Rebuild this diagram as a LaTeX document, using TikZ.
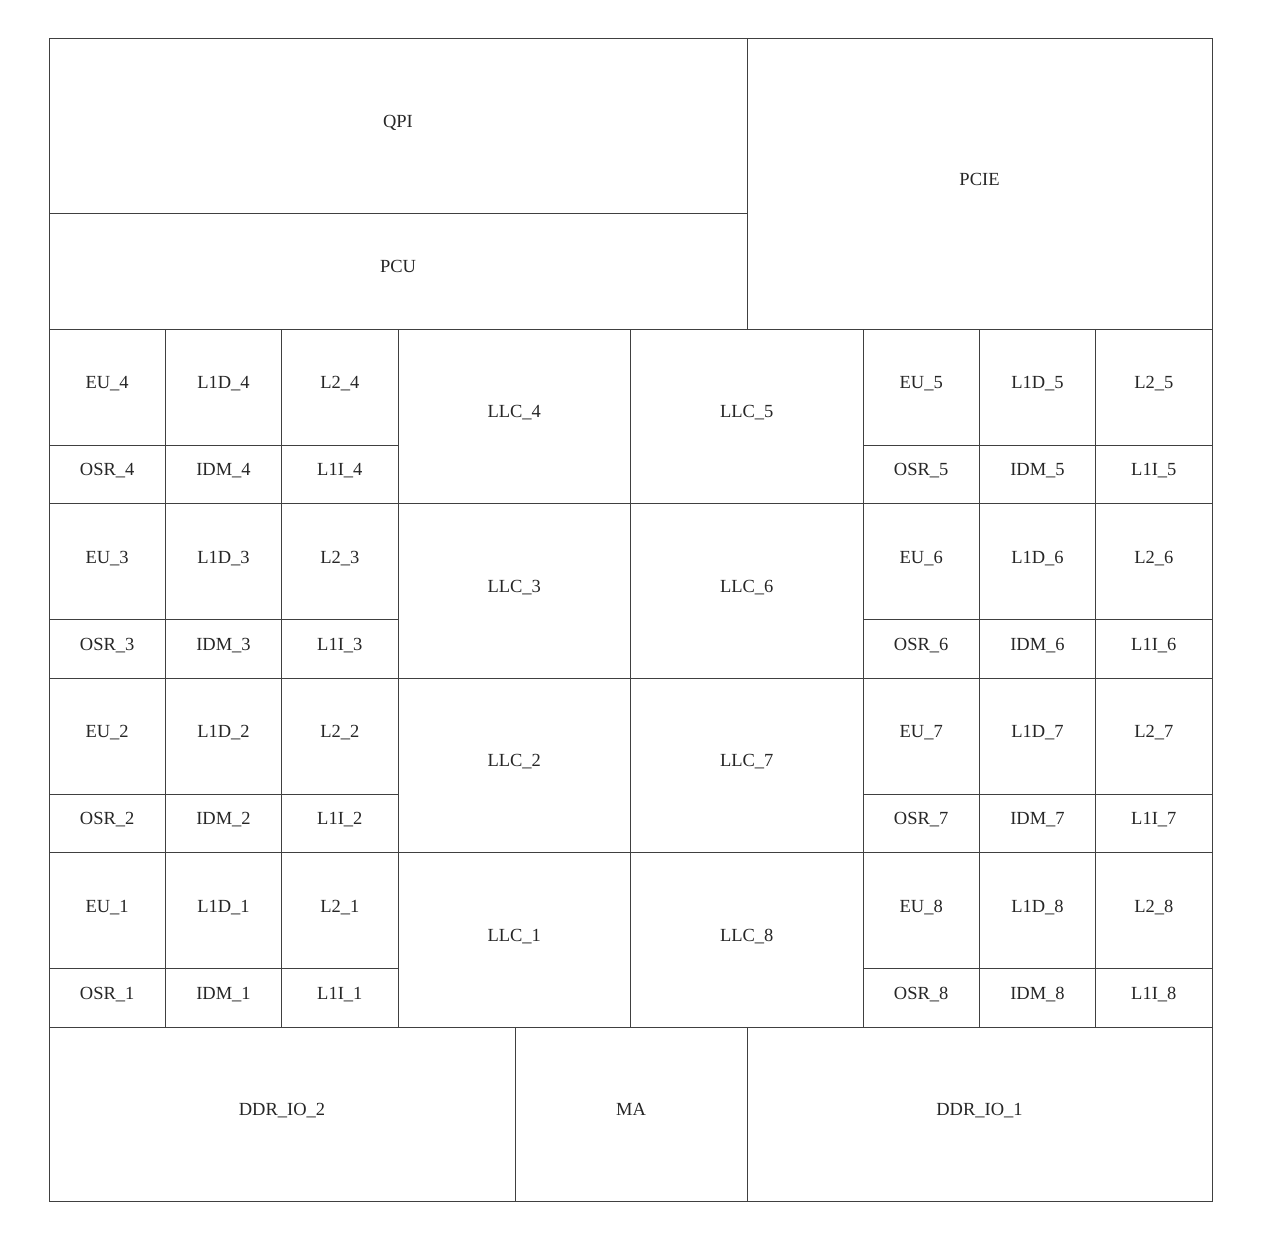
\documentclass[tikz,border=0pt]{standalone}
\usepackage{fontspec}
\setmainfont{Liberation Serif}
\begin{document}
\begin{tikzpicture}[x=1pt,y=-1pt,
  box/.style={draw=black!75,line width=1pt},
  lbl/.style={anchor=base,inner sep=0pt,font=\fontsize{18.5}{20}\selectfont,text=black!85}]
\useasboundingbox (0,0) rectangle (1268,1244);
\newcommand\mycell[6]{%
  \draw[box] (#2,#3) rectangle (#4,#5);
  \node[lbl] (#1) at ({(#2+#4)/2},{(#3+#5)/2+1.5}) {#6};}
% top
\mycell{qpi}{49}{39}{747}{213}{QPI}
\mycell{pcu}{49}{213}{747}{329}{PCU}
\mycell{pcie}{747}{39}{1212}{329}{PCIE}
% bottom
\mycell{ddr2}{49}{1027}{515}{1201}{DDR\_IO\_2}
\mycell{ma}{515}{1027}{747}{1201}{MA}
\mycell{ddr1}{747}{1027}{1212}{1201}{DDR\_IO\_1}
% core rows
\foreach \r/\kl/\kr in {0/4/5,1/3/6,2/2/7,3/1/8}{
  \pgfmathsetmacro\ya{329+174.5*\r}
  \pgfmathsetmacro\yb{\ya+116.33}
  \pgfmathsetmacro\yc{\ya+174.5}
  % left core
  \mycell{eu\kl}{49}{\ya}{165.33}{\yb}{EU\_\kl}
  \mycell{lid\kl}{165.33}{\ya}{281.67}{\yb}{L1D\_\kl}
  \mycell{ltwo\kl}{281.67}{\ya}{398}{\yb}{L2\_\kl}
  \mycell{osr\kl}{49}{\yb}{165.33}{\yc}{OSR\_\kl}
  \mycell{idm\kl}{165.33}{\yb}{281.67}{\yc}{IDM\_\kl}
  \mycell{lii\kl}{281.67}{\yb}{398}{\yc}{L1I\_\kl}
  \mycell{llc\kl}{398}{\ya}{630.5}{\yc}{LLC\_\kl}
  % right core
  \mycell{llc\kr}{630.5}{\ya}{863}{\yc}{LLC\_\kr}
  \mycell{eu\kr}{863}{\ya}{979.33}{\yb}{EU\_\kr}
  \mycell{lid\kr}{979.33}{\ya}{1095.67}{\yb}{L1D\_\kr}
  \mycell{ltwo\kr}{1095.67}{\ya}{1212}{\yb}{L2\_\kr}
  \mycell{osr\kr}{863}{\yb}{979.33}{\yc}{OSR\_\kr}
  \mycell{idm\kr}{979.33}{\yb}{1095.67}{\yc}{IDM\_\kr}
  \mycell{lii\kr}{1095.67}{\yb}{1212}{\yc}{L1I\_\kr}
}
\end{tikzpicture}
\end{document}
